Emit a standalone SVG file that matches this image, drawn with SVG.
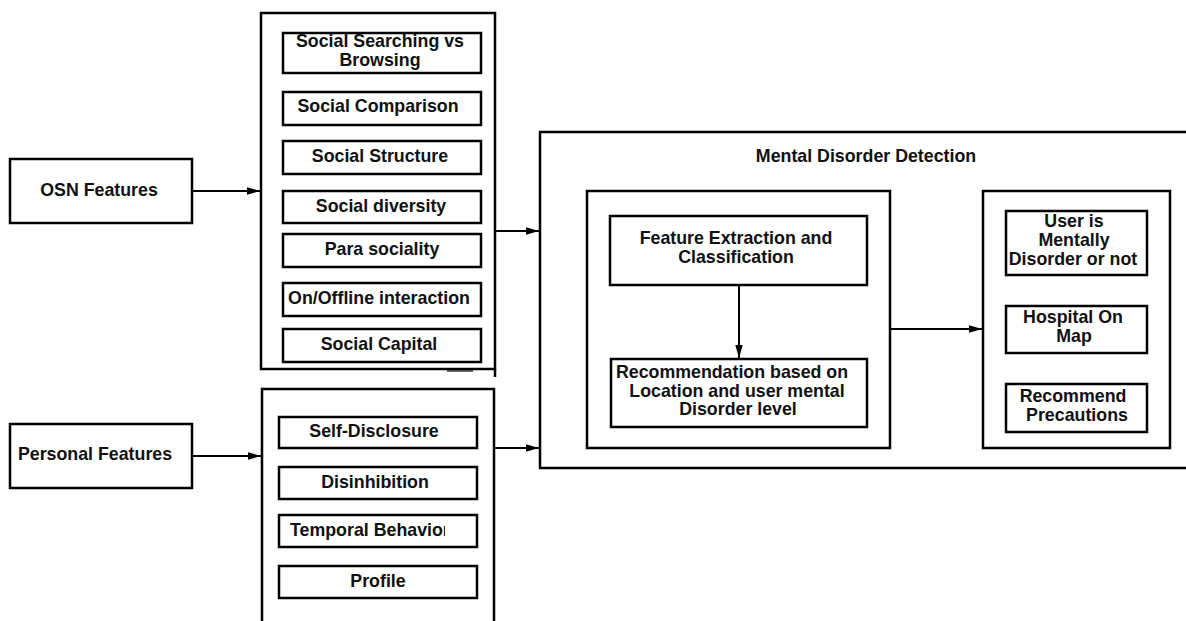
<svg xmlns="http://www.w3.org/2000/svg" width="1186" height="621" viewBox="0 0 1186 621">
<defs>
<style>
.box{fill:#fff;stroke:#000;stroke-width:2.5}
.cont{fill:none;stroke:#000;stroke-width:2.5}
.t{font-family:"Liberation Sans",Arial,sans-serif;font-weight:bold;font-size:17.8px;fill:#111;text-anchor:middle}
.ts{font-family:"Liberation Sans",Arial,sans-serif;font-weight:bold;font-size:17.8px;fill:#111;text-anchor:start}
.c{fill:none;stroke:#000;stroke-width:2;marker-end:url(#ah)}
</style>
<marker id="ah" markerWidth="14" markerHeight="9" refX="13" refY="4.5" orient="auto" markerUnits="userSpaceOnUse">
<path d="M0,0.8 L13,4.5 L0,8.2 Z" fill="#000"/>
</marker>
<clipPath id="clipTB"><rect x="280" y="515" width="165" height="32"/></clipPath>
</defs>
<rect width="1186" height="621" fill="#fff"/>

<g id="osn-features">
<rect class="box" x="10" y="159" width="182" height="64"/>
<text class="t" x="99" y="196">OSN Features</text>
</g>

<g id="personal-features">
<rect class="box" x="10" y="424" width="182" height="64"/>
<text class="t" x="95" y="460">Personal Features</text>
</g>

<g id="osn-container">
<rect class="cont" x="261" y="13" width="234" height="356"/>
<path d="M495,369 L495,377" stroke="#000" stroke-width="2.5"/>
<path d="M447,371 L473,371" stroke="#000" stroke-width="1.2"/>
</g>

<g id="social-searching">
<rect class="box" x="283" y="33" width="198" height="40"/>
<text class="t" x="380" y="47">Social Searching vs</text>
<text class="t" x="380" y="66">Browsing</text>
</g>
<g id="social-comparison">
<rect class="box" x="283" y="92" width="198" height="33"/>
<text class="t" x="378" y="112">Social Comparison</text>
</g>
<g id="social-structure">
<rect class="box" x="283" y="141" width="198" height="33"/>
<text class="t" x="380" y="162">Social Structure</text>
</g>
<g id="social-diversity">
<rect class="box" x="283" y="191" width="198" height="32"/>
<text class="t" x="381" y="212">Social diversity</text>
</g>
<g id="para-sociality">
<rect class="box" x="283" y="234" width="198" height="33"/>
<text class="t" x="382" y="255">Para sociality</text>
</g>
<g id="onoffline-interaction">
<rect class="box" x="283" y="283" width="198" height="33"/>
<text class="t" x="379" y="304">On/Offline interaction</text>
</g>
<g id="social-capital">
<rect class="box" x="283" y="329" width="198" height="33"/>
<text class="t" x="379" y="350">Social Capital</text>
</g>

<g id="personal-container">
<path class="cont" d="M262,630 L262,389 L494,389 L494,630"/>
</g>

<g id="self-disclosure">
<rect class="box" x="279" y="417" width="198" height="31"/>
<text class="t" x="374" y="437">Self-Disclosure</text>
</g>
<g id="disinhibition">
<rect class="box" x="279" y="467" width="198" height="32"/>
<text class="t" x="375" y="488">Disinhibition</text>
</g>
<g id="temporal-behavior">
<rect class="box" x="279" y="515" width="198" height="32"/>
<text class="ts" x="290" y="536" clip-path="url(#clipTB)">Temporal Behavior</text>
</g>
<g id="profile">
<rect class="box" x="279" y="566" width="198" height="32"/>
<text class="t" x="378" y="587">Profile</text>
</g>

<g id="mental-disorder-detection">
<rect class="cont" x="540" y="132" width="700" height="336"/>
<text class="t" x="866" y="162">Mental Disorder Detection</text>
</g>

<g id="processing-container">
<rect class="cont" x="587" y="191" width="303" height="257"/>
</g>
<g id="feature-extraction">
<rect class="box" x="610" y="216" width="257" height="69"/>
<text class="t" x="736" y="244">Feature Extraction and</text>
<text class="t" x="736" y="263">Classification</text>
</g>
<g id="recommendation">
<rect class="box" x="611" y="359" width="256" height="68"/>
<text class="t" x="732" y="378">Recommendation based on</text>
<text class="t" x="737" y="397">Location and user mental</text>
<text class="t" x="738" y="415">Disorder level</text>
</g>

<g id="output-container">
<rect class="cont" x="983" y="191" width="187" height="257"/>
</g>
<g id="user-mentally-disorder">
<rect class="box" x="1006" y="211" width="141" height="64"/>
<text class="t" x="1074" y="227">User is</text>
<text class="t" x="1074" y="246">Mentally</text>
<text class="t" x="1073" y="265">Disorder or not</text>
</g>
<g id="hospital-on-map">
<rect class="box" x="1006" y="306" width="141" height="47"/>
<text class="t" x="1073" y="323">Hospital On</text>
<text class="t" x="1074" y="342">Map</text>
</g>
<g id="recommend-precautions">
<rect class="box" x="1006" y="384" width="141" height="48"/>
<text class="t" x="1073" y="402">Recommend</text>
<text class="t" x="1077" y="421">Precautions</text>
</g>

<g id="connectors">
<line class="c" x1="192" y1="191" x2="260" y2="191"/>
<line class="c" x1="192" y1="456" x2="261" y2="456"/>
<line class="c" x1="495" y1="231" x2="539" y2="231"/>
<line class="c" x1="494" y1="448" x2="539" y2="448"/>
<line class="c" x1="739" y1="286" x2="739" y2="358"/>
<line class="c" x1="890" y1="329" x2="982" y2="329"/>
</g>
</svg>
